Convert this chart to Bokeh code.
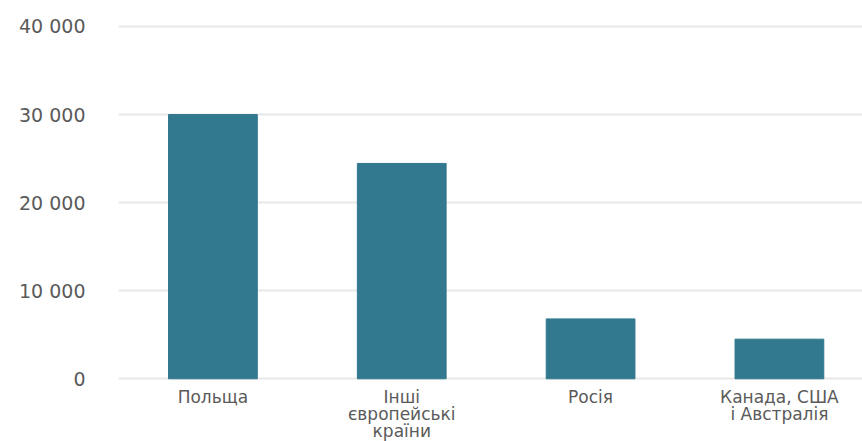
from bokeh.plotting import figure
from bokeh.models import Range1d, FixedTicker, ColumnDataSource
from bokeh.core.properties import value
from bokeh.embed import file_html
from bokeh.resources import INLINE

categories = ["Польща", "Інші\nєвропейські\nкраїни", "Росія", "Канада, США\nі Австралія"]
values = [30000, 24450, 6800, 4500]
y_ticks = [0, 10000, 20000, 30000, 40000]
y_tick_labels = ["0", "10 000", "20 000", "30 000", "40 000"]

W, H = 862, 441
xs = list(range(len(categories)))
src = ColumnDataSource(dict(x=xs, top=values, label=categories, ly=[0] * len(xs)))

p = figure(width=W, height=H, output_backend="svg", toolbar_location=None,
           x_range=Range1d(-0.5, 3.44), y_range=Range1d(-7120, 40681),
           min_border_left=118, min_border_right=0, min_border_top=20, min_border_bottom=0)
p.outline_line_color = None
p.background_fill_color = "white"
p.border_fill_color = "white"

p.vbar(x="x", top="top", width=0.47, bottom=0, source=src,
       fill_color="#32788F", line_color="#32788F")

p.text(x="x", y="ly", text="label", source=src, text_align="center", text_baseline="top",
       y_offset=8, text_font=value("DejaVu Sans"), text_font_size="17px",
       text_color="#5a5a5a", text_line_height=0.85)

p.xgrid.grid_line_color = None
p.ygrid.grid_line_color = "#e8e8e8"
p.ygrid.grid_line_width = 2
p.yaxis.ticker = FixedTicker(ticks=y_ticks)
p.yaxis.major_label_overrides = {t: l for t, l in zip(y_ticks, y_tick_labels)}
p.xaxis.visible = False

ax = p.yaxis
ax.axis_line_color = None
ax.major_tick_line_color = None
ax.minor_tick_line_color = None
ax.major_label_text_color = "#5a5a5a"
ax.major_label_text_font = "DejaVu Sans"
ax.major_label_text_font_size = "19px"
ax.major_label_standoff = 27

open("out.html", "w").write(file_html(p, INLINE))
